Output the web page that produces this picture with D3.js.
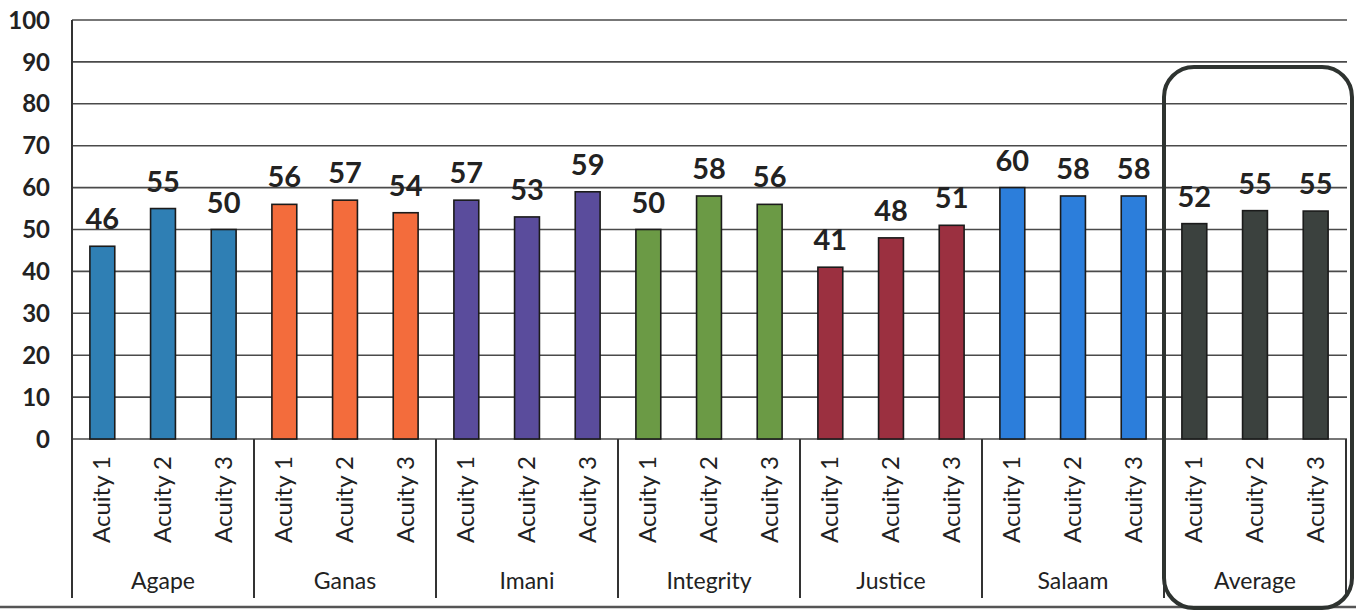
<!DOCTYPE html>
<html><head><meta charset="utf-8">
<script src="https://cdn.jsdelivr.net/npm/d3@7"></script>
<style>body{margin:0;background:#fff}svg{display:block}text{font-family:Lato,"Open Sans",sans-serif}</style>
</head><body>
<svg id="c" width="1356" height="613"></svg>
<script>
const groups = ["Agape","Ganas","Imani","Integrity","Justice","Salaam","Average"];
const acuities = ["Acuity 1","Acuity 2","Acuity 3"];
const agape = [46,55,50];
const ganas = [56,57,54];
const imani = [57,53,59];
const integrity = [50,58,56];
const justice = [41,48,51];
const salaam = [60,58,58];
const average = [51.4,54.5,54.4];
const averageLabels = [52,55,55];
const groupColors = ["#2f7fb4","#f36c3c","#5a4c9c","#6b9a45","#9b3040","#2c7edb","#3b413e"];
const yTicks = [0,10,20,30,40,50,60,70,80,90,100];

(function(){
const series = [agape,ganas,imani,integrity,justice,salaam,average];
const labelsArr = [agape,ganas,imani,integrity,justice,salaam,averageLabels];
const rows = [];
groups.forEach((g,gi)=>acuities.forEach((a,ai)=>rows.push({g,gi,a,ai,v:series[gi][ai],lab:labelsArr[gi][ai],key:g+"|"+a})));

const svg = d3.select("#c");
const pLeft=72, pRight=1346, pTop=20, pBottom=439, axisBottom=598;
const y = d3.scaleLinear().domain([0,100]).range([pBottom,pTop]);
const x = d3.scaleBand().domain(rows.map(r=>r.key)).range([pLeft,pRight]).paddingInner(0.59).paddingOuter(0.295);
const gx = d3.scaleBand().domain(groups).range([pLeft,pRight]);

svg.append("g").selectAll("line").data(yTicks).join("line")
  .attr("x1",pLeft).attr("x2",pRight+1).attr("y1",d=>y(d)).attr("y2",d=>y(d))
  .attr("stroke","#4a4a4a").attr("stroke-width",1.6);
svg.append("g").selectAll("text").data(yTicks).join("text")
  .attr("x",50).attr("y",d=>y(d)).attr("dy","0.36em").attr("text-anchor","end")
  .attr("font-size",24).attr("font-weight","bold").attr("fill","#222").text(d=>d);
svg.append("line").attr("x1",pLeft).attr("x2",pLeft).attr("y1",pTop).attr("y2",axisBottom).attr("stroke","#333").attr("stroke-width",2);
svg.append("g").selectAll("line").data(groups.slice(1)).join("line")
  .attr("x1",d=>gx(d)).attr("x2",d=>gx(d)).attr("y1",pBottom).attr("y2",axisBottom)
  .attr("stroke","#333").attr("stroke-width",2);
svg.append("line").attr("x1",pRight).attr("x2",pRight).attr("y1",pBottom).attr("y2",axisBottom).attr("stroke","#333").attr("stroke-width",2);
svg.append("g").selectAll("rect").data(rows).join("rect")
  .attr("x",d=>x(d.key)).attr("width",x.bandwidth())
  .attr("y",d=>y(d.v)).attr("height",d=>y(0)-y(d.v))
  .attr("fill",d=>groupColors[d.gi]).attr("stroke","#1b1b1b").attr("stroke-width",1.6);
svg.append("g").selectAll("text").data(rows).join("text")
  .attr("x",d=>x(d.key)+x.bandwidth()/2).attr("y",d=>y(d.v)-17)
  .attr("text-anchor","middle").attr("font-size",29).attr("font-weight","bold").attr("fill","#222")
  .text(d=>d.lab);
svg.append("g").selectAll("text").data(rows).join("text")
  .attr("transform",d=>`translate(${x(d.key)+x.bandwidth()/2+8},456) rotate(-90)`)
  .attr("text-anchor","end").attr("font-size",24).attr("fill","#222").text(d=>d.a);
svg.append("g").selectAll("text").data(groups).join("text")
  .attr("x",d=>gx(d)+gx.bandwidth()/2).attr("y",589).attr("text-anchor","middle")
  .attr("font-size",23).attr("fill","#222").text(d=>d);
svg.append("line").attr("x1",0).attr("x2",1356).attr("y1",607).attr("y2",607).attr("stroke","#555").attr("stroke-width",2.5);
const gA = gx("Average");
svg.append("rect").attr("x",gA).attr("y",67).attr("width",1352-gA).attr("height",541).attr("rx",30).attr("ry",30)
  .attr("fill","none").attr("stroke","#2e3330").attr("stroke-width",4);
})();
</script>
</body></html>
